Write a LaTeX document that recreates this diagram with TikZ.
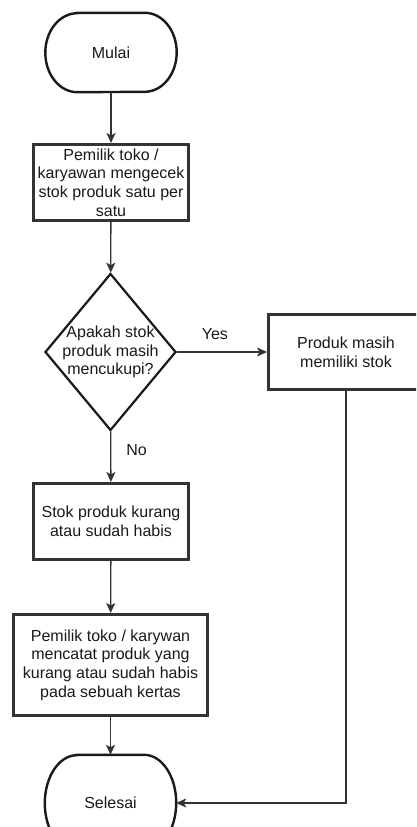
\documentclass[tikz,border=0pt]{standalone}
\usepackage{fontspec}
\setmainfont{Liberation Sans}
\usetikzlibrary{calc,shapes.geometric,arrows.meta}
\def\drawTerm(#1)#2#3{%
  \draw[termline] ($(#1.north west)+(#2,0)$) -- ($(#1.north east)+(-#2,0)$)
    arc[start angle=90,end angle=-90,x radius=#2,y radius=#3]
    -- ($(#1.south west)+(#2,0)$)
    arc[start angle=270,end angle=90,x radius=#2,y radius=#3] -- cycle;
}
\begin{document}
\begin{tikzpicture}[x=1pt,y=1pt,
    every node/.style={font=\fontsize{16}{18.7}\selectfont,text=black!90,align=center,inner sep=0pt},
    term/.style={minimum width=131pt,minimum height=#1},
    box/.style={draw=black!80,line width=3pt,minimum width=155pt,minimum height=76pt},
    termline/.style={line width=2.4pt,black!90},
    flow/.style={line width=1.3pt,black!80,-{Stealth[length=10pt,width=9pt,inset=2.5pt]}}]
    \useasboundingbox (0,0) rectangle (416,-827);
    \clip (0,0) rectangle (416,-827);
    \node[term=79pt] (mulai) at (111,-52.5) {Mulai};
    \drawTerm(mulai){32}{39.5}
    \node[box] (cek) at (111,-182.5) {Pemilik toko /\\ karyawan mengecek\\ stok produk satu per\\ satu};
    \node[diamond,draw=black!90,line width=2.2pt,minimum width=131pt,minimum height=157pt] (tanya) at (110.5,-352) {};
    \node (tanyatxt) at (tanya) {Apakah stok\\ produk masih\\ mencukupi?};
    \node[box,minimum height=75pt] (ada) at (346,-352) {Produk masih\\ memiliki stok};
    \node[box] (kurang) at (111,-521.5) {Stok produk kurang\\ atau sudah habis};
    \node[box,minimum width=194pt,minimum height=101pt] (catat) at (110.5,-665) {Pemilik toko / karywan\\ mencatat produk yang\\ kurang atau sudah habis\\ pada sebuah kertas};
    \node[term=96pt] (selesai) at (110.5,-803) {Selesai};
    \drawTerm(selesai){32}{48}
    % connectors
    \draw[flow] (mulai) -- (cek);
    \draw[flow] (cek) -- (tanya);
    \draw[flow] (tanya) -- node[pos=0.42,above=12pt]{Yes} (ada);
    \draw[flow] (tanya) -- node[pos=0.37,right=15pt]{No} (kurang);
    \draw[flow] (kurang) -- (catat);
    \draw[flow] (catat) -- (selesai);
    \draw[flow] (ada) |- (selesai);
\end{tikzpicture}
\end{document}
